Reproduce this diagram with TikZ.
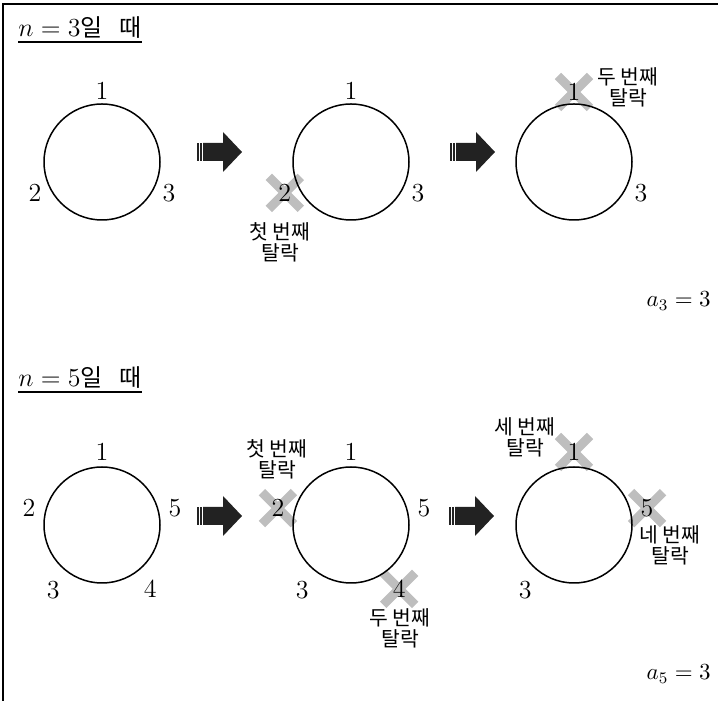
\RequirePackage{fix-cm}
\documentclass[tikz,border=0pt]{standalone}
\usepackage{fontspec}
\newfontfamily\kr{Noto Sans CJK KR}
\usetikzlibrary{shapes.misc}

\definecolor{xgray}{RGB}{190,190,190}
\definecolor{arrowc}{RGB}{34,34,34}

\tikzset{
    ring/.style={circle, draw, line width=0.75pt, minimum size=58pt, inner sep=0pt},
    num/.style={font=\fontsize{13}{15}\selectfont, inner sep=0pt},
    dropped/.style={cross out, draw=xgray, line width=4.5pt, minimum size=11.5pt, inner sep=0pt,
        label={[num]center:#1}},
    droptext/.style={font=\kr\fontsize{10.2}{10.5}\selectfont, align=center, inner sep=0pt},
    title/.style={anchor=base west, inner sep=0pt, font=\fontsize{13}{15}\selectfont},
    result/.style={anchor=base east, inner sep=0pt, font=\fontsize{11.5}{14}\selectfont},
    pics/bigarrow/.style={code={
        \fill[arrowc] (0,-9) rectangle (1.5,9);
        \fill[arrowc] (3,-9) rectangle (4.5,9);
        \fill[arrowc] (6,-9) -- (26,-9) -- (26,-20) -- (45,0) -- (26,20) -- (26,9) -- (6,9) -- cycle;
    }}
}

\begin{document}
\begin{tikzpicture}[x=0.5pt, y=0.5pt]
\useasboundingbox (0,0) rectangle (718,701);

% Frame
\draw[line width=1pt] (3,0) -- (3,697) -- (718,697);

% n = 3
\node[title] (t3) at (18,664) {$n=3$\kr\fontsize{12}{14}\selectfont 일\hspace{8.5pt}때};
\draw[line width=0.6pt] ([yshift=-2.5pt]t3.base west) -- ([yshift=-2.5pt]t3.base east);

\coordinate (o1) at (102,539);
\coordinate (o2) at (351,539);
\coordinate (o3) at (574,539);

% first circle
\node[num] (p11) at ([shift={(90:71)}]o1) {1};
\node[num] (p12) at ([shift={(205:74)}]o1) {2};
\node[num] (p13) at ([shift={(335:74)}]o1) {3};
\node[ring] (c1) at (o1) {};

\pic at (197,549) {bigarrow};

% second circle
\node[num] (p21) at ([shift={(90:71)}]o2) {1};
\node[dropped=2] (p22) at ([shift={(205:73)}]o2) {};
\node[num] (p23) at ([shift={(335:74)}]o2) {3};
\node[ring] (c2) at (o2) {};
\node[droptext] (d21) at (280,459) {첫 번째\\탈락};

\pic at (450,549) {bigarrow};

% third circle
\node[dropped=1] (p31) at ([shift={(90:70)}]o3) {};
\node[num] (p33) at ([shift={(335:74)}]o3) {3};
\node[ring] (c3) at (o3) {};
\node[droptext] (d31) at (628,614) {두 번째\\탈락};

\node[result] (r3) at (711,394) {$a_3=3$};

% n = 5
\node[title] (t5) at (18,314) {$n=5$\kr\fontsize{12}{14}\selectfont 일\hspace{8.5pt}때};
\draw[line width=0.6pt] ([yshift=-2.5pt]t5.base west) -- ([yshift=-2.5pt]t5.base east);

\coordinate (o4) at (102,176);
\coordinate (o5) at (351,176);
\coordinate (o6) at (574,176);

% first circle
\node[num] (p41) at ([shift={(90:73)}]o4) {1};
\node[num] (p42) at ([shift={(167:75)}]o4) {2};
\node[num] (p43) at ([shift={(233:81)}]o4) {3};
\node[num] (p44) at ([shift={(307:80)}]o4) {4};
\node[num] (p45) at ([shift={(13:75)}]o4) {5};
\node[ring] (c4) at (o4) {};

\pic at (197,185) {bigarrow};

% second circle
\node[num] (p51) at ([shift={(90:73)}]o5) {1};
\node[dropped=2] (p52) at ([shift={(167:75)}]o5) {};
\node[num] (p53) at ([shift={(233:81)}]o5) {3};
\node[dropped=4] (p54) at ([shift={(307:80)}]o5) {};
\node[num] (p55) at ([shift={(13:75)}]o5) {5};
\node[ring] (c5) at (o5) {};
\node[droptext] (d51) at (277,242) {첫 번째\\탈락};
\node[droptext] (d54) at (400,73) {두 번째\\탈락};

\pic at (449,185) {bigarrow};

% third circle
\node[dropped=1] (p61) at ([shift={(90:73)}]o6) {};
\node[num] (p63) at ([shift={(233:81)}]o6) {3};
\node[dropped=5] (p65) at ([shift={(13:75)}]o6) {};
\node[ring] (c6) at (o6) {};
\node[droptext] (d61) at (525,264) {세 번째\\탈락};
\node[droptext] (d65) at (670,156) {네 번째\\탈락};

\node[result] (r5) at (711,21) {$a_5=3$};

\end{tikzpicture}
\end{document}
